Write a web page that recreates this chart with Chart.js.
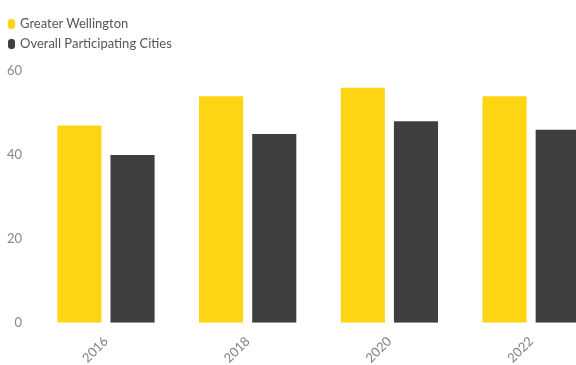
<!DOCTYPE html>
<html>
<head>
<meta charset="utf-8">
<script src="https://cdn.jsdelivr.net/npm/chart.js@4/dist/chart.umd.min.js"></script>
<style>
    html, body { margin: 0; padding: 0; background: #fff; }
    #wrap { position: relative; width: 576px; height: 365px; overflow: hidden; }
    #box { position: absolute; left: 0; top: 0; width: 602px; height: 369px; }
    #legend { position: absolute; left: 8px; top: 13px; font-family: Lato, sans-serif; font-size: 13px; color: #555; }
    #legend div { height: 20px; line-height: 20px; white-space: nowrap; }
    #legend span.mark { display: inline-block; width: 7px; height: 10px; border-radius: 3px; margin-right: 5px; vertical-align: -1px; }
</style>
</head>
<body>
<div id="wrap">
    <div id="box"><canvas id="chart"></canvas></div>
    <div id="legend"></div>
</div>
<script>
const years = ["2016", "2018", "2020", "2022"];
const wellington = [47, 54, 56, 54];
const overall = [40, 45, 48, 46];
const yTicks = [0, 20, 40, 60];

const chart = new Chart(document.getElementById("chart"), {
    type: "bar",
    data: {
        labels: years,
        datasets: [{
            label: "Greater Wellington",
            data: wellington,
            backgroundColor: "#FFD412"
        }, {
            label: "Overall Participating Cities",
            data: overall,
            backgroundColor: "#3F3F3F"
        }]
    },
    options: {
        responsive: true,
        maintainAspectRatio: false,
        animation: false,
        categoryPercentage: 0.75,
        barPercentage: 0.83,
        layout: { padding: { top: 71, left: 2, bottom: 0 } },
        plugins: {
            legend: { display: false },
            tooltip: { enabled: false }
        },
        scales: {
            x: {
                grid: { display: false },
                border: { display: false },
                ticks: {
                    minRotation: 45,
                    maxRotation: 45,
                    color: "#808080",
                    font: { family: "Lato", size: 13 }
                }
            },
            y: {
                min: 0,
                max: 60,
                grid: { display: false },
                border: { display: false },
                afterBuildTicks: axis => { axis.ticks = yTicks.map(v => ({ value: v })); },
                ticks: {
                    padding: 5,
                    color: "#888",
                    font: { family: "Lato", size: 13 }
                }
            }
        }
    }
});

// legend rows, one per dataset
const legend = document.getElementById("legend");
chart.data.datasets.forEach(ds => {
    const row = document.createElement("div");
    const mark = document.createElement("span");
    mark.className = "mark";
    mark.style.background = ds.backgroundColor;
    row.appendChild(mark);
    row.appendChild(document.createTextNode(ds.label));
    legend.appendChild(row);
});
</script>
</body>
</html>
